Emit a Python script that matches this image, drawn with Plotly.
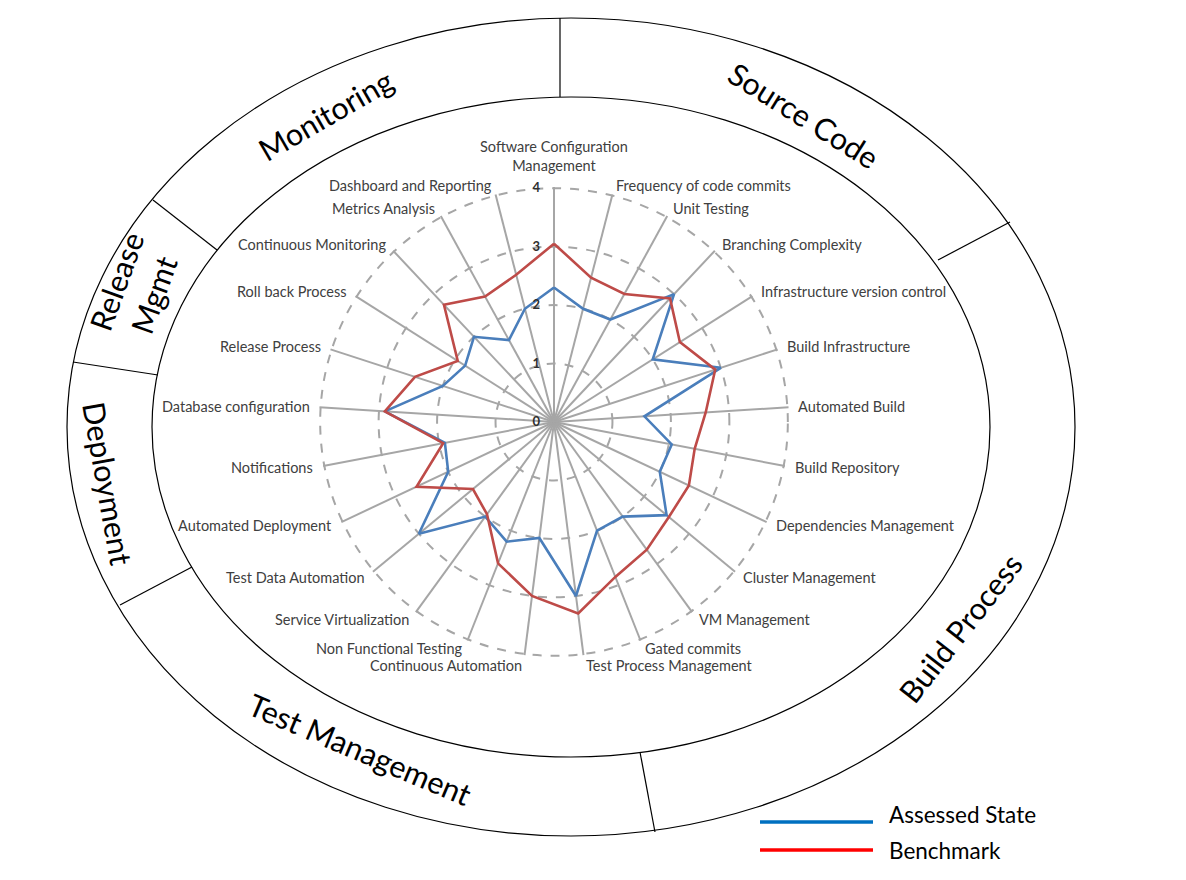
import math
import plotly.graph_objects as go

# ---------------- data ----------------
categories = [
    "Software Configuration<br>Management", "Frequency of code commits", "Unit Testing",
    "Branching Complexity", "Infrastructure version control", "Build Infrastructure",
    "Automated Build", "Build Repository", "Dependencies Management", "Cluster Management",
    "VM Management", "Gated commits", "Test Process Management", "Continuous Automation",
    "Non Functional Testing", "Service Virtualization", "Test Data Automation",
    "Automated Deployment", "Notifications", "Database configuration", "Release Process",
    "Roll back Process", "Continuous Monitoring", "Metrics Analysis", "Dashboard and Reporting",
]
assessed = [2.3, 2.0, 2.0, 3.0, 2.0, 3.0, 1.55, 2.05, 2.0, 2.5, 2.0, 2.0, 3.0, 2.0,
            2.2, 2.0, 3.0, 2.0, 1.9, 2.9, 2.0, 1.8, 2.0, 1.6, 2.0]
benchmark = [3.05, 2.55, 2.5, 2.9, 2.55, 2.9, 2.6, 2.45, 2.55, 2.55, 2.7, 2.85, 3.3, 3.0,
             2.6, 1.95, 1.8, 2.6, 1.93, 2.9, 2.5, 1.95, 2.75, 2.45, 2.6]
radial_ticks = [0, 1, 2, 3, 4]
r_max = 4
series_names = ["Assessed State", "Benchmark"]
group_labels = ["Monitoring", "Source Code", "Release<br>Mgmt", "Deployment",
                "Test Management", "Build Process"]

# ---------------- helpers (pixel -> paper) ----------------
W, H = 1186, 880
def px(x):
    return x / W
def py(y):
    return 1 - y / H

LABEL_FONT = "Lato"
fig = go.Figure()

def closed(v):
    return list(v) + [v[0]]

fig.add_trace(go.Scatterpolar(
    r=closed(assessed), theta=closed(categories), mode="lines", name=series_names[0],
    line=dict(color="#4A7EBB", width=2.6), hoverinfo="r+theta"))
fig.add_trace(go.Scatterpolar(
    r=closed(benchmark), theta=closed(categories), mode="lines", name=series_names[1],
    line=dict(color="#BE4B48", width=2.6), hoverinfo="r+theta"))

# polar layout: center (554,422), domain radius 235 px for range [0, 4.02]
cx, cy, R = 554, 422, 235
r_range = [0, r_max + 0.02]
R4 = R * r_max / r_range[1]

shapes = []
# ring ellipses
ring_c = (571, 427)
shapes.append(dict(type="circle", xref="paper", yref="paper",
                   x0=px(ring_c[0] - 419), x1=px(ring_c[0] + 419),
                   y0=py(ring_c[1] + 330), y1=py(ring_c[1] - 330),
                   line=dict(color="black", width=1.2), layer="below"))
shapes.append(dict(type="circle", xref="paper", yref="paper",
                   x0=px(ring_c[0] - 504), x1=px(ring_c[0] + 504),
                   y0=py(ring_c[1] + 409), y1=py(ring_c[1] - 409),
                   line=dict(color="black", width=1.2), layer="below"))
# ring dividers (inner point -> outer point)
dividers = [
    ((560, 97), (560, 18)),
    ((938, 260), (1010, 222)),
    ((640, 752), (655, 832)),
    ((192, 567), (120, 605)),
    ((158, 375), (73, 362)),
    ((217, 250), (153, 200)),
]
for (x0, y0), (x1, y1) in dividers:
    shapes.append(dict(type="line", xref="paper", yref="paper",
                       x0=px(x0), y0=py(y0), x1=px(x1), y1=py(y1),
                       line=dict(color="black", width=1.2)))

# manual legend lines
shapes.append(dict(type="line", xref="paper", yref="paper", x0=px(760), x1=px(873),
                   y0=py(822), y1=py(822), line=dict(color="#0070C0", width=3.5)))
shapes.append(dict(type="line", xref="paper", yref="paper", x0=px(760), x1=px(873),
                   y0=py(850), y1=py(850), line=dict(color="#FF0000", width=3.5)))

annotations = []
# category labels placed just beyond the end of each spoke
n = len(categories)
for k, cat in enumerate(categories):
    th = math.radians(360.0 * k / n)
    s, c = math.sin(th), math.cos(th)
    ex, ey = cx + R4 * s, cy - R4 * c
    if abs(s) < 0.05:
        ax, ay, xa, ya = ex, ey - 12, "center", "bottom"
    else:
        ax, ay = ex + 9 * s, ey - 10 * c
        if c < -0.98:
            ay += 1.5
        xa, ya = ("left" if s > 0 else "right"), "middle"
    annotations.append(dict(text=cat, x=px(ax), y=py(ay), xref="paper", yref="paper",
                            showarrow=False, xanchor=xa, yanchor=ya, align="center",
                            font=dict(family=LABEL_FONT, size=14.5, color="#404040")))

group_pos = [
    (325, 115, -30),
    (804, 115, 32),
    (135, 288, -70),
    (108, 483, 80),
    (360, 749, 23),
    (960, 628, -52),
]
for text, (x, y, ang) in zip(group_labels, group_pos):
    annotations.append(dict(text=text, x=px(x), y=py(y), xref="paper", yref="paper",
                            showarrow=False, textangle=ang, xanchor="center", yanchor="middle",
                            font=dict(family=LABEL_FONT, size=30.5, color="black"),
                            align="center"))
for name, y in zip(series_names, [814, 850]):
    annotations.append(dict(text=name, x=px(887), y=py(y), xref="paper", yref="paper",
                            showarrow=False, xanchor="left", yanchor="middle",
                            font=dict(family=LABEL_FONT, size=22.5, color="black")))

fig.update_layout(
    width=W, height=H,
    margin=dict(l=0, r=0, t=0, b=0),
    paper_bgcolor="white",
    showlegend=False,
    shapes=shapes,
    annotations=annotations,
    polar=dict(
        domain=dict(x=[px(cx - R), px(cx + R)], y=[py(cy + R), py(cy - R)]),
        bgcolor="rgba(0,0,0,0)",
        angularaxis=dict(
            direction="clockwise", rotation=90, showline=False, ticks="",
            showticklabels=False,
            gridcolor="#A6A6A6", gridwidth=1.5,
        ),
        radialaxis=dict(
            range=r_range, tickvals=radial_ticks, angle=90, side="counterclockwise",
            tickangle=90, ticks="outside", ticklen=9, tickcolor="rgba(0,0,0,0)",
            showline=False, gridcolor="#A6A6A6", gridwidth=1.5, griddash="dash",
            tickfont=dict(family=LABEL_FONT, size=13, color="#303030", weight="bold"),
        ),
    ),
)

fig.write_html("out.html")
